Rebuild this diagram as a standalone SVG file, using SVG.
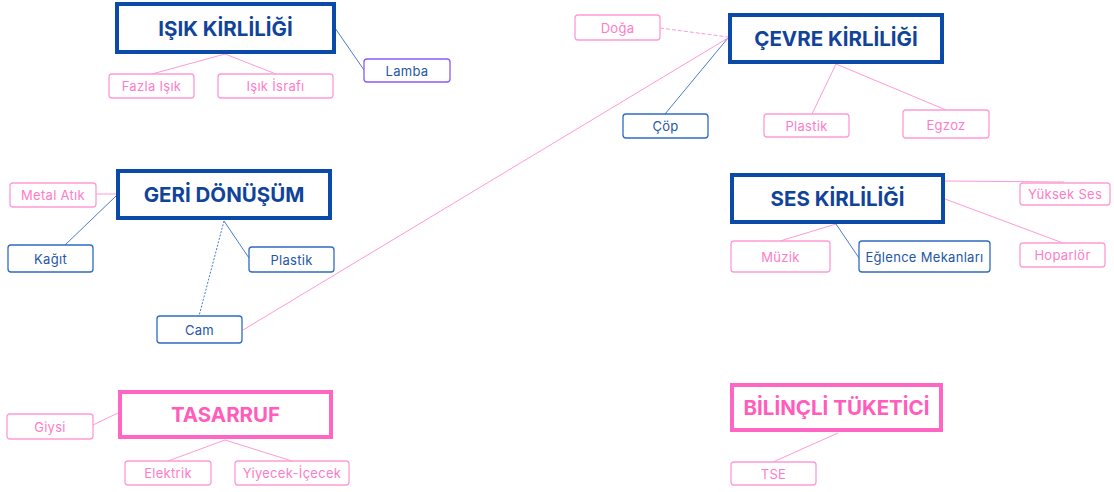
<svg xmlns="http://www.w3.org/2000/svg" width="1114" height="492" viewBox="0 0 1114 492">
<style>
.bg{fill:#fff}
.mb{fill:#fff;stroke:#0b4aa8;stroke-width:4}
.mp{fill:#fff;stroke:#ff66c4;stroke-width:4}
.mt{font-family:Inter,"Noto Sans",sans-serif;font-weight:700;font-size:20.5px;fill:#10449a;text-anchor:middle}
.mtp{font-family:Inter,"Noto Sans",sans-serif;font-weight:700;font-size:20.5px;fill:#ff5cbc;text-anchor:middle}
.sb{fill:#fff;stroke:#2f6bc0;stroke-width:1.3}
.sp{fill:#fff;stroke:#ff9ad6;stroke-width:1.3}
.sv{fill:#fff;stroke:#8b5cf6;stroke-width:1.3}
.st{font-family:Inter,"Noto Sans",sans-serif;font-size:13px;letter-spacing:0.3px;fill:#2456a8;text-anchor:middle}
.stp{font-family:Inter,"Noto Sans",sans-serif;font-size:13px;letter-spacing:0.3px;fill:#ff7cc8;text-anchor:middle}
.cb{stroke:#4a7cc8;stroke-width:1;fill:none}
.cp{stroke:#ff9ad6;stroke-width:1;fill:none}
</style>
<rect class="bg" x="0" y="0" width="1114" height="492"/>
<g id="connectors">
<line class="cp" x1="225" y1="54" x2="152" y2="74"/>
<line class="cp" x1="225" y1="54" x2="276" y2="74"/>
<line class="cb" x1="335" y1="28" x2="364" y2="70"/>
<line class="cp" x1="660" y1="28" x2="728" y2="37" stroke-dasharray="4,2"/>
<line class="cb" x1="728" y1="38" x2="665" y2="114"/>
<line class="cp" x1="728" y1="38" x2="243" y2="330"/>
<line class="cp" x1="836" y1="64" x2="812" y2="114"/>
<line class="cp" x1="836" y1="64" x2="946" y2="110"/>
<line class="cp" x1="96" y1="194" x2="116" y2="194"/>
<line class="cb" x1="116" y1="196" x2="65" y2="245"/>
<line class="cb" x1="224" y1="221" x2="199" y2="316" stroke-dasharray="2,1.5"/>
<line class="cb" x1="224" y1="221" x2="249" y2="258"/>
<line class="cp" x1="945" y1="181" x2="1064" y2="182"/>
<line class="cp" x1="945" y1="199" x2="1063" y2="243"/>
<line class="cp" x1="836" y1="224" x2="780" y2="241"/>
<line class="cb" x1="836" y1="224" x2="859" y2="258"/>
<line class="cp" x1="93" y1="425" x2="118" y2="413"/>
<line class="cp" x1="225" y1="440" x2="168" y2="461"/>
<line class="cp" x1="225" y1="440" x2="292" y2="461"/>
<line class="cp" x1="838" y1="433" x2="773" y2="462"/>
</g>
<g id="isik">
<rect class="mb" x="117" y="4" width="217" height="48"/>
<text class="mt" x="225.5" y="35.5">IŞIK KİRLİLİĞİ</text>
</g>
<g id="fazla"><rect class="sp" x="109" y="74" width="85" height="24" rx="3"/><text class="stp" x="151.5" y="91">Fazla Işık</text></g>
<g id="israf"><rect class="sp" x="218" y="74" width="115" height="24" rx="3"/><text class="stp" x="275.5" y="91">Işık İsrafı</text></g>
<g id="lamba"><rect class="sv" x="364" y="59" width="86" height="23" rx="3"/><text class="st" x="407" y="75.5">Lamba</text></g>

<g id="cevre">
<rect class="mb" x="730" y="15" width="212" height="47"/>
<text class="mt" x="836" y="46">ÇEVRE KİRLİLİĞİ</text>
</g>
<g id="doga"><rect class="sp" x="575" y="15" width="85" height="25" rx="3"/><text class="stp" x="617.5" y="32.5">Doğa</text></g>
<g id="cop"><rect class="sb" x="623" y="114" width="85" height="24" rx="3"/><text class="st" x="665.5" y="131">Çöp</text></g>
<g id="plastik1"><rect class="sp" x="764" y="114" width="85" height="23" rx="3"/><text class="stp" x="806.5" y="130.5">Plastik</text></g>
<g id="egzoz"><rect class="sp" x="903" y="110" width="86" height="28" rx="3"/><text class="stp" x="946" y="129.5">Egzoz</text></g>

<g id="geri">
<rect class="mb" x="118" y="171" width="212" height="47"/>
<text class="mt" x="224" y="202">GERİ DÖNÜŞÜM</text>
</g>
<g id="metal"><rect class="sp" x="10" y="183" width="86" height="24" rx="3"/><text class="stp" x="53" y="200">Metal Atık</text></g>
<g id="kagit"><rect class="sb" x="8" y="245" width="85" height="27" rx="3"/><text class="st" x="50.5" y="263.5">Kağıt</text></g>
<g id="plastik2"><rect class="sb" x="249" y="247" width="85" height="25" rx="3"/><text class="st" x="291.5" y="264.5">Plastik</text></g>
<g id="cam"><rect class="sb" x="157" y="316" width="85" height="27" rx="3"/><text class="st" x="199.5" y="334.5">Cam</text></g>

<g id="ses">
<rect class="mb" x="732" y="175" width="211" height="47"/>
<text class="mt" x="837.5" y="206">SES KİRLİLİĞİ</text>
</g>
<g id="yuksek"><rect class="sp" x="1020" y="183" width="90" height="22" rx="3"/><text class="stp" x="1065" y="199">Yüksek Ses</text></g>
<g id="hoparlor"><rect class="sp" x="1020" y="243" width="85" height="24" rx="3"/><text class="stp" x="1062.5" y="260">Hoparlör</text></g>
<g id="muzik"><rect class="sp" x="731" y="241" width="99" height="31" rx="3"/><text class="stp" x="780.5" y="261.5">Müzik</text></g>
<g id="eglence"><rect class="sb" x="859" y="241" width="131" height="31" rx="3"/><text class="st" x="924.5" y="261.5" letter-spacing="0">Eğlence Mekanları</text></g>

<g id="tasarruf">
<rect class="mp" x="120" y="392" width="211" height="45"/>
<text class="mtp" x="225.5" y="421.5">TASARRUF</text>
</g>
<g id="giysi"><rect class="sp" x="7" y="414" width="86" height="25" rx="3"/><text class="stp" x="50" y="431.5">Giysi</text></g>
<g id="elektrik"><rect class="sp" x="125" y="461" width="86" height="24" rx="3"/><text class="stp" x="168" y="478">Elektrik</text></g>
<g id="yiyecek"><rect class="sp" x="235" y="461" width="114" height="24" rx="3"/><text class="stp" x="292" y="478">Yiyecek-İçecek</text></g>

<g id="bilincli">
<rect class="mp" x="732" y="385" width="209" height="45"/>
<text class="mtp" x="836.5" y="414.5">BİLİNÇLİ TÜKETİCİ</text>
</g>
<g id="tse"><rect class="sp" x="731" y="462" width="85" height="23" rx="3"/><text class="stp" x="773.5" y="478.5">TSE</text></g>
</svg>
